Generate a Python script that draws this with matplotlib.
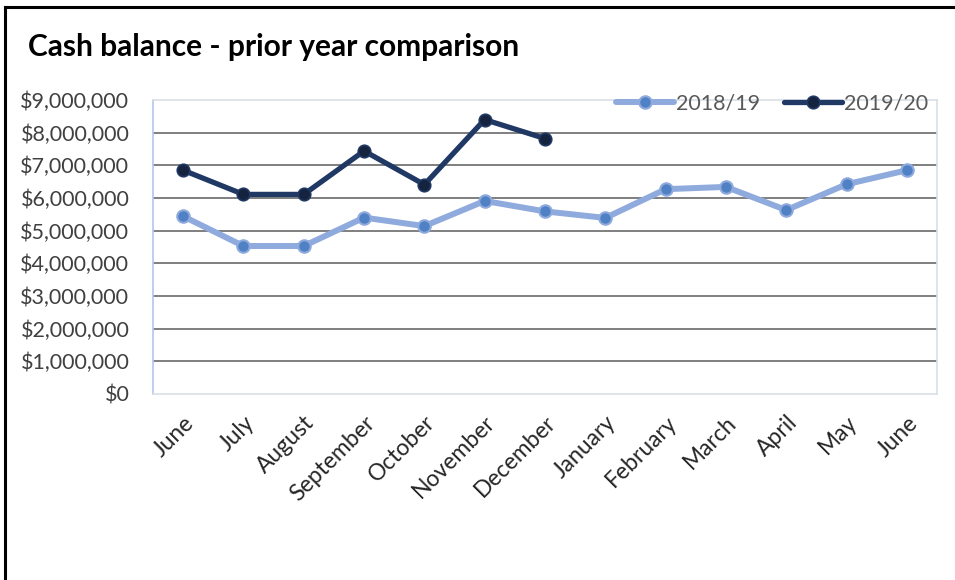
import matplotlib
matplotlib.use("Agg")
import matplotlib.pyplot as plt
from matplotlib.ticker import FuncFormatter, MultipleLocator
from matplotlib.lines import Line2D

months = ["June", "July", "August", "September", "October", "November",
          "December", "January", "February", "March", "April", "May", "June"]
fy1819 = [5.44, 4.53, 4.53, 5.40, 5.14, 5.91, 5.59, 5.39, 6.27, 6.34, 5.63, 6.42, 6.85]
fy1920 = [6.85, 6.11, 6.11, 7.44, 6.41, 8.40, 7.82]
fy1819 = [v * 1e6 for v in fy1819]
fy1920 = [v * 1e6 for v in fy1920]

plt.rcParams['font.family'] = ['Lato', 'DejaVu Sans']

fig = plt.figure(figsize=(9.55, 5.8), dpi=100)
# outer border (top and left)
fig.add_artist(Line2D([5/955, 5/955], [0, 1 - 7/580], transform=fig.transFigure,
                      color='black', lw=2.2))
fig.add_artist(Line2D([5/955, 1], [1 - 7/580, 1 - 7/580], transform=fig.transFigure,
                      color='black', lw=2.2))

ax = fig.add_axes([153/955, 1 - 394/580, 784/955, 294/580])
x = list(range(len(months)))
ax.plot(x, fy1819, color='#8faadc', lw=4.3, marker='o', markersize=9,
        markerfacecolor='#4f81c4', markeredgecolor='#8faadc', markeredgewidth=1.5,
        label='2018/19', zorder=3, solid_capstyle='round')
ax.plot(x[:len(fy1920)], fy1920, color='#203864', lw=3.8, marker='o', markersize=9,
        markerfacecolor='#15233f', markeredgecolor='#203864', markeredgewidth=1.2,
        label='2019/20', zorder=4, solid_capstyle='round')

ax.set_xlim(-0.5, len(months) - 0.5)
ax.set_ylim(0, 9e6)
ax.yaxis.set_major_locator(MultipleLocator(1e6))
ax.yaxis.set_major_formatter(FuncFormatter(lambda v, p: "${:,.0f}".format(v)))
for yv in range(1, 9):
    ax.axhline(yv * 1e6, color='#7f7f7f', lw=1.4, zorder=1)

ax.set_xticks(x)
ax.set_xticklabels(months, rotation=45, ha='right', rotation_mode='anchor')
ax.tick_params(axis='both', length=0, labelsize=15.5, labelcolor='#404040')
ax.tick_params(axis='x', labelsize=16.5, labelcolor='#262626', pad=13)
ax.tick_params(axis='y', pad=17)

for s in ['top', 'right', 'bottom']:
    ax.spines[s].set_color('#d9dee6')
    ax.spines[s].set_linewidth(1.2)
ax.spines['left'].set_color('#b4c7e7')
ax.spines['left'].set_linewidth(1.2)

leg = ax.legend(loc='center right', bbox_to_anchor=(928/955, 1 - 104/580),
                bbox_transform=fig.transFigure, ncol=2, frameon=False,
                fontsize=15.5, handlelength=2.7, columnspacing=1.1, handletextpad=0.1,
                borderaxespad=0, borderpad=0)
for t in leg.get_texts():
    t.set_color('#595959')

fig.text(28/955, 1 - 47/580, "Cash balance - prior year comparison",
         fontsize=21.5, fontweight='bold', color='black', va='center', ha='left')

fig.savefig("out.png", dpi=100)
